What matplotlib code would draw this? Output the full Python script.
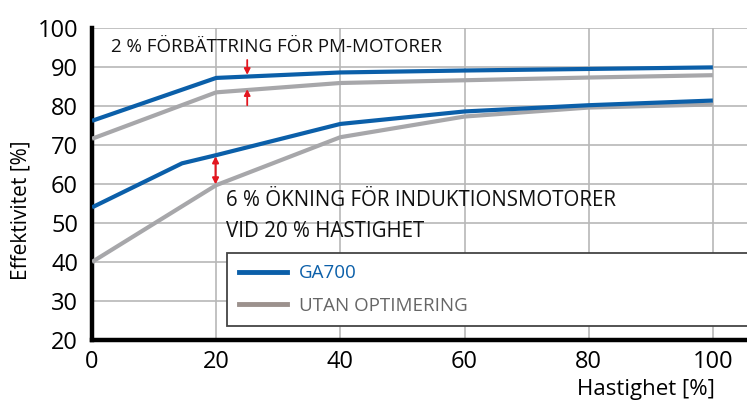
import matplotlib
matplotlib.use("Agg")
import matplotlib.pyplot as plt
from matplotlib.lines import Line2D

plt.rcParams['font.family'] = ['Open Sans', 'DejaVu Sans']

# Data
speed_pm = [0, 20, 40, 60, 80, 100]
pm_ga700 = [76.2, 87.2, 88.6, 89.1, 89.5, 89.9]
pm_no_opt = [71.6, 83.5, 85.9, 86.6, 87.3, 87.9]

speed_im_ga = [0, 14.5, 20, 40, 60, 80, 100]
im_ga700 = [54.0, 65.3, 67.4, 75.4, 78.6, 80.2, 81.4]
speed_im_no = [0, 20, 40, 60, 80, 100]
im_no_opt = [40.0, 59.7, 72.0, 77.3, 79.6, 80.4]

xticks = [0, 20, 40, 60, 80, 100]
yticks = [20, 30, 40, 50, 60, 70, 80, 90, 100]

blue = '#0b5fa9'
gray = '#a7a7aa'
red = '#e3161f'

fig = plt.figure(figsize=(7.47, 4.05), dpi=100)
ax = fig.add_axes([92/747, 65/405, 1 - 92/747, 312/405])
ax.set_xlim(0, 105.5)
ax.set_ylim(20, 100)

ax.set_xticks(xticks)
ax.set_yticks(yticks)
ax.grid(True, color='#b8b8b8', linewidth=1.2)
ax.set_axisbelow(True)
ax.tick_params(length=0, labelsize=17, pad=10)
ax.tick_params(axis='x', pad=7)
for s in ['top', 'right']:
    ax.spines[s].set_visible(False)
for s in ['left', 'bottom']:
    ax.spines[s].set_linewidth(3.2)
    ax.spines[s].set_color('black')

ax.plot(speed_pm, pm_no_opt, color=gray, lw=3, solid_capstyle='butt', zorder=3)
ax.plot(speed_im_no, im_no_opt, color=gray, lw=3, solid_capstyle='butt', zorder=3)
ax.plot(speed_pm, pm_ga700, color=blue, lw=3, solid_capstyle='butt', zorder=4)
ax.plot(speed_im_ga, im_ga700, color=blue, lw=3, solid_capstyle='butt', zorder=4)

# arrows
ap = dict(arrowstyle='-|>,head_length=0.35,head_width=0.18', color=red, lw=1.3,
          shrinkA=0, shrinkB=0)
ax.annotate('', xy=(25, 88.0), xytext=(25, 91.8), arrowprops=ap, zorder=5)
ax.annotate('', xy=(25, 84.3), xytext=(25, 80.2), arrowprops=ap, zorder=5)
ap2 = dict(arrowstyle='<|-|>,head_length=0.35,head_width=0.18', color=red, lw=1.5,
           shrinkA=0, shrinkB=0)
ax.annotate('', xy=(19.9, 67.1), xytext=(19.9, 59.9), arrowprops=ap2, zorder=5)

ax.text(3.0, 95.2, '2 % FÖRBÄTTRING FÖR PM-MOTORER', fontsize=13.5,
        va='center', ha='left', color='#111111')
ax.text(21.6, 51.9, '6 % ÖKNING FÖR INDUKTIONSMOTORER\nVID 20 % HASTIGHET',
        fontsize=14.8, va='center', ha='left', color='#111111', linespacing=1.62)

handles = [Line2D([], [], color=blue, lw=3.5),
           Line2D([], [], color='#9c918d', lw=3.5)]
leg = ax.legend(handles, ['GA700', 'UTAN OPTIMERING'],
                loc='upper left', bbox_to_anchor=(21.8, 23.3, 95, 19),
                bbox_transform=ax.transData, mode='expand',
                fontsize=13.5, frameon=True, fancybox=False, framealpha=1,
                edgecolor='#444444', handlelength=2.6, handletextpad=0.6,
                borderpad=0.6, labelspacing=0.76, borderaxespad=0)
leg.get_frame().set_linewidth(1.3)
leg.set_zorder(6)
texts = leg.get_texts()
texts[0].set_color(blue)
texts[1].set_color('#666666')

ax.set_ylabel('Effektivitet [%]', fontsize=15)
ax.yaxis.set_label_coords(-0.092, 0.417)
fig.text(715/747, 1 - 390/405, 'Hastighet [%]', fontsize=16, ha='right', va='center')

fig.savefig('out.png', dpi=100)
